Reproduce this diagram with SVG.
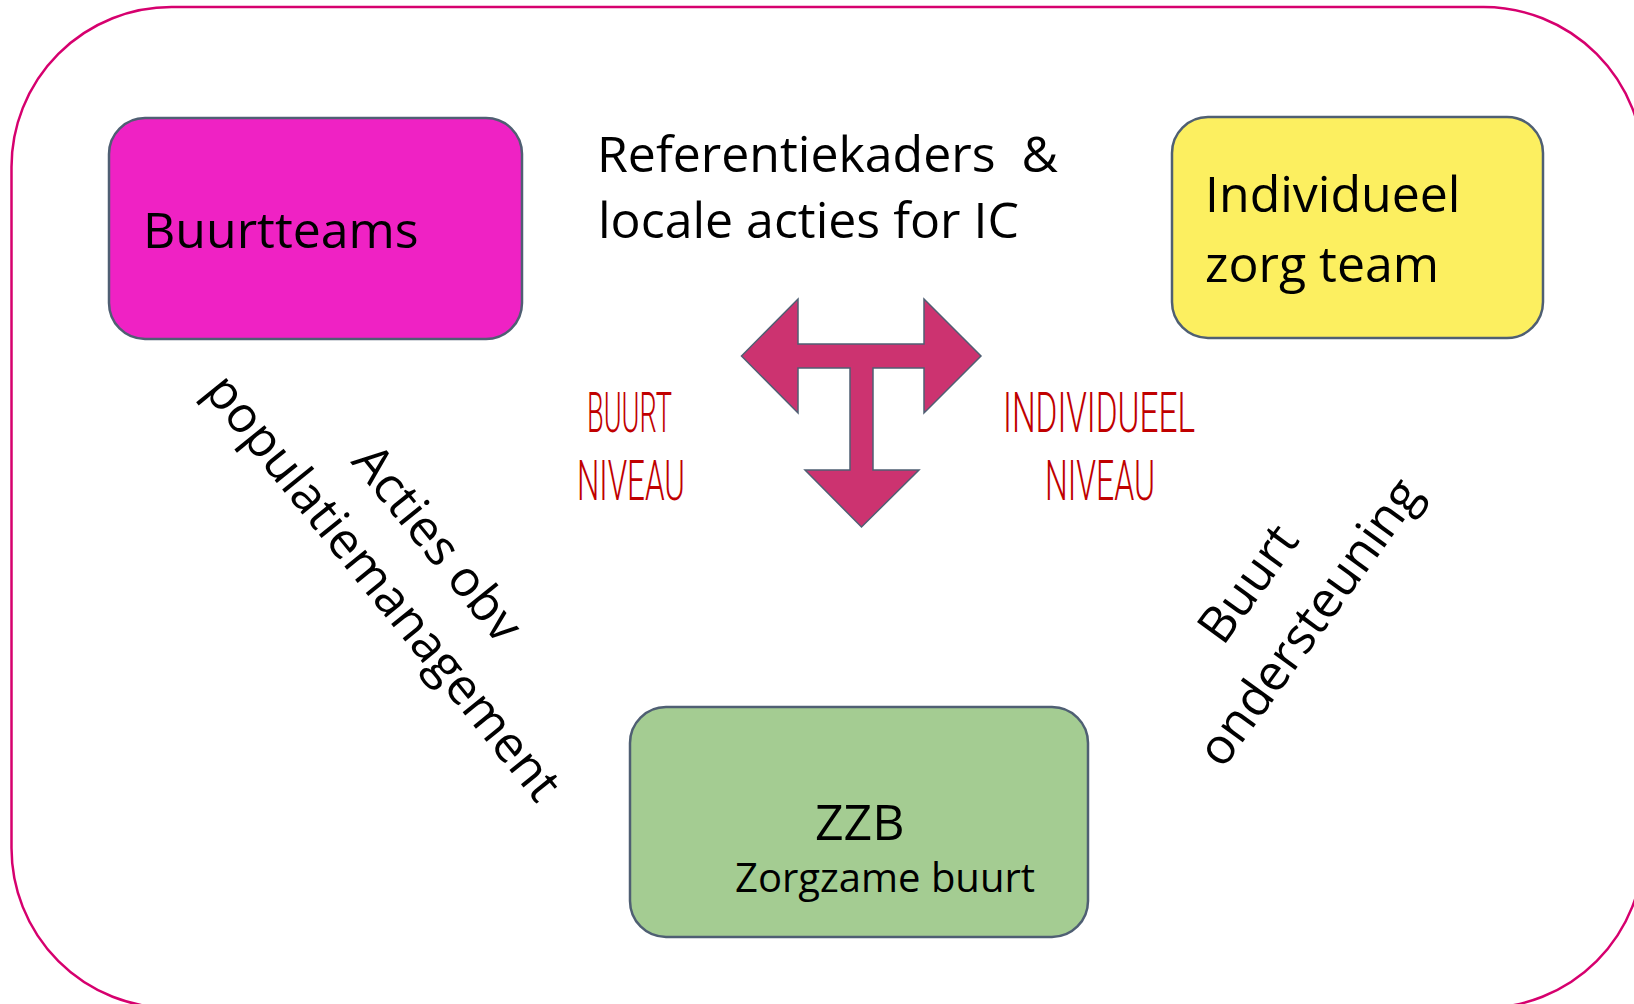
<svg xmlns="http://www.w3.org/2000/svg" width="1634" height="1004" viewBox="0 0 1634 1004">
<style>
.node{stroke:#4F5F73;stroke-width:2.5}
.t{font-family:"Open Sans","Liberation Sans",sans-serif;font-size:50px;fill:#000}
.red{font-family:Roboto,"Liberation Sans",sans-serif;font-weight:300;font-size:55px;fill:#C00000}
</style>
<rect x="0" y="0" width="1634" height="1004" fill="#fff"/>
<rect id="frame" x="11.5" y="7" width="1632" height="1001" rx="160" ry="160" fill="none" stroke="#D6006E" stroke-width="2.5"/>
<g id="buurtteams">
<rect class="node" x="109" y="118" width="413" height="221" rx="36" fill="#EF22C4"/>
<text class="t" x="143" y="248">Buurtteams</text>
</g>
<g id="individueel">
<rect class="node" x="1172" y="117" width="371" height="221" rx="36" fill="#FCEF60"/>
<text class="t" x="1205" y="212">Individueel</text>
<text class="t" x="1205" y="282">zorg team</text>
</g>
<g id="zzb">
<rect class="node" x="630" y="707" width="458" height="230" rx="36" fill="#A4CC92"/>
<text class="t" x="815" y="840">ZZB</text>
<text class="t" x="735" y="892" style="font-size:40px">Zorgzame buurt</text>
</g>
<g id="heading">
<text class="t" x="597" y="172" xml:space="preserve">Referentiekaders  &amp;</text>
<text class="t" x="598" y="238">locale acties for IC</text>
</g>
<g id="connectors">
<path d="M741.5 356 L798 299 L798 344 L924 344 L924 299 L981 356 L924 413 L924 368 L873 368 L873 470 L919 470 L861.5 527 L805 470 L850 470 L850 368 L798 368 L798 413 Z" fill="#CC3370" stroke="#4F5F73" stroke-width="1.5"/>
</g>
<g id="labels">
<text class="red" x="587" y="432" textLength="85" lengthAdjust="spacingAndGlyphs">BUURT</text>
<text class="red" x="577" y="500" textLength="108" lengthAdjust="spacingAndGlyphs">NIVEAU</text>
<text class="red" x="1003" y="432" textLength="192" lengthAdjust="spacingAndGlyphs">INDIVIDUEEL</text>
<text class="red" x="1045" y="500" textLength="110" lengthAdjust="spacingAndGlyphs">NIVEAU</text>
<g transform="translate(370 598) rotate(51)">
<text class="t" x="0" y="-70" text-anchor="middle">Acties obv</text>
<text class="t" x="0" y="0" text-anchor="middle">populatiemanagement</text>
</g>
<g transform="translate(1323 632) rotate(-54)">
<text class="t" x="-5" y="-72" text-anchor="middle">Buurt</text>
<text class="t" x="0" y="0" text-anchor="middle">ondersteuning</text>
</g>
</g>
</svg>
